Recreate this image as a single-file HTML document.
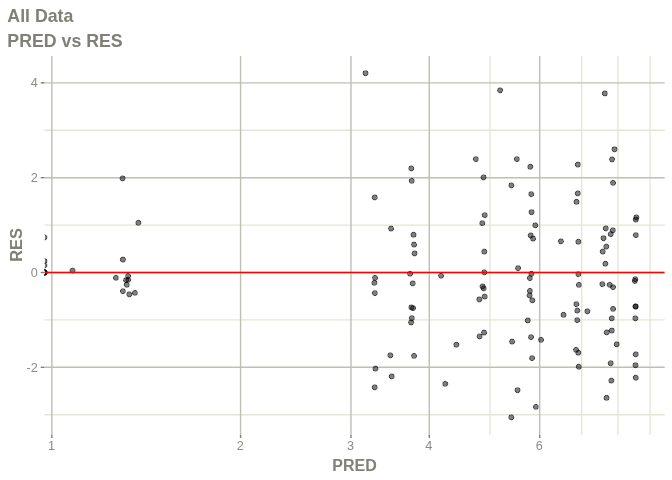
<!DOCTYPE html>
<html><head><meta charset="utf-8"><title>PRED vs RES</title>
<style>html,body{margin:0;padding:0;background:#fff}svg{display:block}text{font-family:"Liberation Sans",Arial,sans-serif;fill:#808078}.t text{fill:#8C8C86}</style></head><body>
<svg width="672" height="480" viewBox="0 0 672 480">
<rect width="672" height="480" fill="#fff"/>
<g stroke="#E6E6D8" stroke-width="1.42" fill="none">
<line x1="44.40" x2="664.70" y1="130.28" y2="130.28"/>
<line x1="44.40" x2="664.70" y1="225.09" y2="225.09"/>
<line x1="44.40" x2="664.70" y1="319.89" y2="319.89"/>
<line x1="44.40" x2="664.70" y1="414.71" y2="414.71"/>
<line x1="490.04" x2="490.04" y1="56.00" y2="434.90"/>
<line x1="581.65" x2="581.65" y1="56.00" y2="434.90"/>
<line x1="618.01" x2="618.01" y1="56.00" y2="434.90"/>
<line x1="650.08" x2="650.08" y1="56.00" y2="434.90"/>
</g>
<g stroke="#BFBFB4" stroke-width="1.42" fill="none">
<line x1="44.40" x2="664.70" y1="82.87" y2="82.87"/>
<line x1="44.40" x2="664.70" y1="177.68" y2="177.68"/>
<line x1="44.40" x2="664.70" y1="272.49" y2="272.49"/>
<line x1="44.40" x2="664.70" y1="367.30" y2="367.30"/>
<line x1="51.85" x2="51.85" y1="56.00" y2="434.90"/>
<line x1="240.57" x2="240.57" y1="56.00" y2="434.90"/>
<line x1="350.96" x2="350.96" y1="56.00" y2="434.90"/>
<line x1="429.29" x2="429.29" y1="56.00" y2="434.90"/>
<line x1="539.68" x2="539.68" y1="56.00" y2="434.90"/>
</g>
<clipPath id="c"><rect x="44.40" y="56.00" width="620.30" height="378.90"/></clipPath>
<clipPath id="p"><rect x="45.00" y="56.00" width="619.70" height="378.90"/></clipPath>
<g clip-path="url(#c)"><g clip-path="url(#p)" fill="#000" fill-opacity="0.5" stroke="none" shape-rendering="crispEdges">
<circle cx="44.40" cy="237.38" r="2.6"/>
<circle cx="44.40" cy="261.09" r="2.6"/>
<circle cx="44.40" cy="265.36" r="2.6"/>
<circle cx="44.40" cy="272.47" r="2.6"/>
<circle cx="44.40" cy="272.47" r="2.6"/>
<circle cx="44.40" cy="272.47" r="2.6"/>
<circle cx="44.40" cy="272.47" r="2.6"/>
<circle cx="44.40" cy="272.47" r="2.6"/>
<circle cx="44.40" cy="272.47" r="2.6"/>
<circle cx="44.40" cy="272.47" r="2.6"/>
<circle cx="44.40" cy="272.47" r="2.6"/>
<circle cx="44.40" cy="272.47" r="2.6"/>
<circle cx="72.55" cy="270.60" r="2.6"/>
<circle cx="122.95" cy="259.60" r="2.6"/>
<circle cx="115.95" cy="277.85" r="2.6"/>
<circle cx="128.05" cy="276.00" r="2.6"/>
<circle cx="126.05" cy="280.10" r="2.6"/>
<circle cx="128.15" cy="279.85" r="2.6"/>
<circle cx="126.80" cy="284.85" r="2.6"/>
<circle cx="122.95" cy="291.20" r="2.6"/>
<circle cx="129.30" cy="294.35" r="2.6"/>
<circle cx="134.95" cy="292.85" r="2.6"/>
<circle cx="122.55" cy="178.40" r="2.6"/>
<circle cx="138.35" cy="222.90" r="2.6"/>
<circle cx="365.55" cy="73.10" r="2.6"/>
<circle cx="500.05" cy="90.30" r="2.6"/>
<circle cx="604.85" cy="93.40" r="2.6"/>
<circle cx="411.25" cy="168.40" r="2.6"/>
<circle cx="411.75" cy="180.90" r="2.6"/>
<circle cx="374.75" cy="197.40" r="2.6"/>
<circle cx="475.85" cy="159.10" r="2.6"/>
<circle cx="516.85" cy="159.10" r="2.6"/>
<circle cx="530.25" cy="166.80" r="2.6"/>
<circle cx="483.55" cy="177.40" r="2.6"/>
<circle cx="511.35" cy="185.40" r="2.6"/>
<circle cx="531.25" cy="194.10" r="2.6"/>
<circle cx="531.55" cy="212.10" r="2.6"/>
<circle cx="614.55" cy="149.30" r="2.6"/>
<circle cx="612.05" cy="159.40" r="2.6"/>
<circle cx="577.85" cy="164.60" r="2.6"/>
<circle cx="613.05" cy="182.90" r="2.6"/>
<circle cx="577.85" cy="193.40" r="2.6"/>
<circle cx="576.55" cy="201.90" r="2.6"/>
<circle cx="391.05" cy="228.60" r="2.6"/>
<circle cx="413.55" cy="234.80" r="2.6"/>
<circle cx="414.05" cy="244.60" r="2.6"/>
<circle cx="414.55" cy="253.40" r="2.6"/>
<circle cx="410.05" cy="273.80" r="2.6"/>
<circle cx="375.05" cy="277.90" r="2.6"/>
<circle cx="374.35" cy="282.90" r="2.6"/>
<circle cx="412.75" cy="283.40" r="2.6"/>
<circle cx="441.05" cy="275.80" r="2.6"/>
<circle cx="484.75" cy="215.10" r="2.6"/>
<circle cx="482.25" cy="223.10" r="2.6"/>
<circle cx="535.25" cy="225.30" r="2.6"/>
<circle cx="530.75" cy="235.40" r="2.6"/>
<circle cx="533.05" cy="238.60" r="2.6"/>
<circle cx="560.95" cy="241.30" r="2.6"/>
<circle cx="484.25" cy="251.60" r="2.6"/>
<circle cx="518.05" cy="268.10" r="2.6"/>
<circle cx="484.25" cy="272.30" r="2.6"/>
<circle cx="531.35" cy="273.90" r="2.6"/>
<circle cx="529.85" cy="278.10" r="2.6"/>
<circle cx="482.55" cy="286.40" r="2.6"/>
<circle cx="483.75" cy="288.40" r="2.6"/>
<circle cx="529.95" cy="290.90" r="2.6"/>
<circle cx="636.35" cy="217.40" r="2.6"/>
<circle cx="635.85" cy="219.60" r="2.6"/>
<circle cx="605.85" cy="228.40" r="2.6"/>
<circle cx="612.85" cy="230.30" r="2.6"/>
<circle cx="610.75" cy="234.10" r="2.6"/>
<circle cx="635.85" cy="235.10" r="2.6"/>
<circle cx="603.55" cy="238.10" r="2.6"/>
<circle cx="578.35" cy="241.80" r="2.6"/>
<circle cx="606.25" cy="246.60" r="2.6"/>
<circle cx="602.75" cy="251.60" r="2.6"/>
<circle cx="605.35" cy="263.80" r="2.6"/>
<circle cx="578.35" cy="274.10" r="2.6"/>
<circle cx="635.25" cy="279.10" r="2.6"/>
<circle cx="634.85" cy="281.00" r="2.6"/>
<circle cx="578.85" cy="284.90" r="2.6"/>
<circle cx="602.35" cy="284.10" r="2.6"/>
<circle cx="609.75" cy="284.90" r="2.6"/>
<circle cx="613.05" cy="287.20" r="2.6"/>
<circle cx="374.85" cy="293.10" r="2.6"/>
<circle cx="411.35" cy="307.40" r="2.6"/>
<circle cx="413.05" cy="308.10" r="2.6"/>
<circle cx="411.85" cy="318.10" r="2.6"/>
<circle cx="411.05" cy="322.40" r="2.6"/>
<circle cx="390.35" cy="355.30" r="2.6"/>
<circle cx="414.05" cy="355.90" r="2.6"/>
<circle cx="375.45" cy="368.60" r="2.6"/>
<circle cx="484.75" cy="296.60" r="2.6"/>
<circle cx="479.35" cy="299.40" r="2.6"/>
<circle cx="529.55" cy="295.40" r="2.6"/>
<circle cx="532.25" cy="300.30" r="2.6"/>
<circle cx="563.55" cy="314.90" r="2.6"/>
<circle cx="527.85" cy="320.40" r="2.6"/>
<circle cx="484.05" cy="332.60" r="2.6"/>
<circle cx="479.55" cy="336.40" r="2.6"/>
<circle cx="456.35" cy="344.80" r="2.6"/>
<circle cx="512.05" cy="341.60" r="2.6"/>
<circle cx="531.05" cy="337.10" r="2.6"/>
<circle cx="541.05" cy="339.90" r="2.6"/>
<circle cx="532.05" cy="358.10" r="2.6"/>
<circle cx="576.35" cy="304.10" r="2.6"/>
<circle cx="577.25" cy="310.60" r="2.6"/>
<circle cx="587.35" cy="311.30" r="2.6"/>
<circle cx="577.25" cy="320.10" r="2.6"/>
<circle cx="613.05" cy="308.90" r="2.6"/>
<circle cx="635.55" cy="306.40" r="2.6"/>
<circle cx="635.65" cy="306.60" r="2.6"/>
<circle cx="611.85" cy="318.30" r="2.6"/>
<circle cx="635.35" cy="318.30" r="2.6"/>
<circle cx="611.85" cy="330.60" r="2.6"/>
<circle cx="606.75" cy="332.40" r="2.6"/>
<circle cx="616.75" cy="344.30" r="2.6"/>
<circle cx="576.05" cy="349.90" r="2.6"/>
<circle cx="578.25" cy="352.80" r="2.6"/>
<circle cx="635.85" cy="354.30" r="2.6"/>
<circle cx="610.75" cy="363.20" r="2.6"/>
<circle cx="635.55" cy="365.20" r="2.6"/>
<circle cx="578.85" cy="366.80" r="2.6"/>
<circle cx="391.75" cy="376.40" r="2.6"/>
<circle cx="374.75" cy="387.30" r="2.6"/>
<circle cx="445.25" cy="383.90" r="2.6"/>
<circle cx="517.55" cy="390.10" r="2.6"/>
<circle cx="535.85" cy="406.90" r="2.6"/>
<circle cx="511.25" cy="417.30" r="2.6"/>
<circle cx="611.35" cy="380.60" r="2.6"/>
<circle cx="635.85" cy="377.80" r="2.6"/>
<circle cx="606.55" cy="397.90" r="2.6"/>
</g>
<g fill="none" stroke="#000" stroke-opacity="0.5" stroke-width="0.94">
<circle cx="44.40" cy="237.38" r="2.6"/>
<circle cx="44.40" cy="261.09" r="2.6"/>
<circle cx="44.40" cy="265.36" r="2.6"/>
<circle cx="44.40" cy="272.47" r="2.6"/>
<circle cx="44.40" cy="272.47" r="2.6"/>
<circle cx="44.40" cy="272.47" r="2.6"/>
<circle cx="44.40" cy="272.47" r="2.6"/>
<circle cx="44.40" cy="272.47" r="2.6"/>
<circle cx="44.40" cy="272.47" r="2.6"/>
<circle cx="44.40" cy="272.47" r="2.6"/>
<circle cx="44.40" cy="272.47" r="2.6"/>
<circle cx="44.40" cy="272.47" r="2.6"/>
<circle cx="72.55" cy="270.60" r="2.6"/>
<circle cx="122.95" cy="259.60" r="2.6"/>
<circle cx="115.95" cy="277.85" r="2.6"/>
<circle cx="128.05" cy="276.00" r="2.6"/>
<circle cx="126.05" cy="280.10" r="2.6"/>
<circle cx="128.15" cy="279.85" r="2.6"/>
<circle cx="126.80" cy="284.85" r="2.6"/>
<circle cx="122.95" cy="291.20" r="2.6"/>
<circle cx="129.30" cy="294.35" r="2.6"/>
<circle cx="134.95" cy="292.85" r="2.6"/>
<circle cx="122.55" cy="178.40" r="2.6"/>
<circle cx="138.35" cy="222.90" r="2.6"/>
<circle cx="365.55" cy="73.10" r="2.6"/>
<circle cx="500.05" cy="90.30" r="2.6"/>
<circle cx="604.85" cy="93.40" r="2.6"/>
<circle cx="411.25" cy="168.40" r="2.6"/>
<circle cx="411.75" cy="180.90" r="2.6"/>
<circle cx="374.75" cy="197.40" r="2.6"/>
<circle cx="475.85" cy="159.10" r="2.6"/>
<circle cx="516.85" cy="159.10" r="2.6"/>
<circle cx="530.25" cy="166.80" r="2.6"/>
<circle cx="483.55" cy="177.40" r="2.6"/>
<circle cx="511.35" cy="185.40" r="2.6"/>
<circle cx="531.25" cy="194.10" r="2.6"/>
<circle cx="531.55" cy="212.10" r="2.6"/>
<circle cx="614.55" cy="149.30" r="2.6"/>
<circle cx="612.05" cy="159.40" r="2.6"/>
<circle cx="577.85" cy="164.60" r="2.6"/>
<circle cx="613.05" cy="182.90" r="2.6"/>
<circle cx="577.85" cy="193.40" r="2.6"/>
<circle cx="576.55" cy="201.90" r="2.6"/>
<circle cx="391.05" cy="228.60" r="2.6"/>
<circle cx="413.55" cy="234.80" r="2.6"/>
<circle cx="414.05" cy="244.60" r="2.6"/>
<circle cx="414.55" cy="253.40" r="2.6"/>
<circle cx="410.05" cy="273.80" r="2.6"/>
<circle cx="375.05" cy="277.90" r="2.6"/>
<circle cx="374.35" cy="282.90" r="2.6"/>
<circle cx="412.75" cy="283.40" r="2.6"/>
<circle cx="441.05" cy="275.80" r="2.6"/>
<circle cx="484.75" cy="215.10" r="2.6"/>
<circle cx="482.25" cy="223.10" r="2.6"/>
<circle cx="535.25" cy="225.30" r="2.6"/>
<circle cx="530.75" cy="235.40" r="2.6"/>
<circle cx="533.05" cy="238.60" r="2.6"/>
<circle cx="560.95" cy="241.30" r="2.6"/>
<circle cx="484.25" cy="251.60" r="2.6"/>
<circle cx="518.05" cy="268.10" r="2.6"/>
<circle cx="484.25" cy="272.30" r="2.6"/>
<circle cx="531.35" cy="273.90" r="2.6"/>
<circle cx="529.85" cy="278.10" r="2.6"/>
<circle cx="482.55" cy="286.40" r="2.6"/>
<circle cx="483.75" cy="288.40" r="2.6"/>
<circle cx="529.95" cy="290.90" r="2.6"/>
<circle cx="636.35" cy="217.40" r="2.6"/>
<circle cx="635.85" cy="219.60" r="2.6"/>
<circle cx="605.85" cy="228.40" r="2.6"/>
<circle cx="612.85" cy="230.30" r="2.6"/>
<circle cx="610.75" cy="234.10" r="2.6"/>
<circle cx="635.85" cy="235.10" r="2.6"/>
<circle cx="603.55" cy="238.10" r="2.6"/>
<circle cx="578.35" cy="241.80" r="2.6"/>
<circle cx="606.25" cy="246.60" r="2.6"/>
<circle cx="602.75" cy="251.60" r="2.6"/>
<circle cx="605.35" cy="263.80" r="2.6"/>
<circle cx="578.35" cy="274.10" r="2.6"/>
<circle cx="635.25" cy="279.10" r="2.6"/>
<circle cx="634.85" cy="281.00" r="2.6"/>
<circle cx="578.85" cy="284.90" r="2.6"/>
<circle cx="602.35" cy="284.10" r="2.6"/>
<circle cx="609.75" cy="284.90" r="2.6"/>
<circle cx="613.05" cy="287.20" r="2.6"/>
<circle cx="374.85" cy="293.10" r="2.6"/>
<circle cx="411.35" cy="307.40" r="2.6"/>
<circle cx="413.05" cy="308.10" r="2.6"/>
<circle cx="411.85" cy="318.10" r="2.6"/>
<circle cx="411.05" cy="322.40" r="2.6"/>
<circle cx="390.35" cy="355.30" r="2.6"/>
<circle cx="414.05" cy="355.90" r="2.6"/>
<circle cx="375.45" cy="368.60" r="2.6"/>
<circle cx="484.75" cy="296.60" r="2.6"/>
<circle cx="479.35" cy="299.40" r="2.6"/>
<circle cx="529.55" cy="295.40" r="2.6"/>
<circle cx="532.25" cy="300.30" r="2.6"/>
<circle cx="563.55" cy="314.90" r="2.6"/>
<circle cx="527.85" cy="320.40" r="2.6"/>
<circle cx="484.05" cy="332.60" r="2.6"/>
<circle cx="479.55" cy="336.40" r="2.6"/>
<circle cx="456.35" cy="344.80" r="2.6"/>
<circle cx="512.05" cy="341.60" r="2.6"/>
<circle cx="531.05" cy="337.10" r="2.6"/>
<circle cx="541.05" cy="339.90" r="2.6"/>
<circle cx="532.05" cy="358.10" r="2.6"/>
<circle cx="576.35" cy="304.10" r="2.6"/>
<circle cx="577.25" cy="310.60" r="2.6"/>
<circle cx="587.35" cy="311.30" r="2.6"/>
<circle cx="577.25" cy="320.10" r="2.6"/>
<circle cx="613.05" cy="308.90" r="2.6"/>
<circle cx="635.55" cy="306.40" r="2.6"/>
<circle cx="635.65" cy="306.60" r="2.6"/>
<circle cx="611.85" cy="318.30" r="2.6"/>
<circle cx="635.35" cy="318.30" r="2.6"/>
<circle cx="611.85" cy="330.60" r="2.6"/>
<circle cx="606.75" cy="332.40" r="2.6"/>
<circle cx="616.75" cy="344.30" r="2.6"/>
<circle cx="576.05" cy="349.90" r="2.6"/>
<circle cx="578.25" cy="352.80" r="2.6"/>
<circle cx="635.85" cy="354.30" r="2.6"/>
<circle cx="610.75" cy="363.20" r="2.6"/>
<circle cx="635.55" cy="365.20" r="2.6"/>
<circle cx="578.85" cy="366.80" r="2.6"/>
<circle cx="391.75" cy="376.40" r="2.6"/>
<circle cx="374.75" cy="387.30" r="2.6"/>
<circle cx="445.25" cy="383.90" r="2.6"/>
<circle cx="517.55" cy="390.10" r="2.6"/>
<circle cx="535.85" cy="406.90" r="2.6"/>
<circle cx="511.25" cy="417.30" r="2.6"/>
<circle cx="611.35" cy="380.60" r="2.6"/>
<circle cx="635.85" cy="377.80" r="2.6"/>
<circle cx="606.55" cy="397.90" r="2.6"/>
</g>
<line x1="44.40" x2="664.70" y1="272.49" y2="272.49" stroke="#FF0000" stroke-width="1.42"/>
</g>
<g stroke="#808078" stroke-width="1.42" fill="none">
<line x1="40.73" x2="44.40" y1="82.87" y2="82.87"/>
<line x1="40.73" x2="44.40" y1="177.68" y2="177.68"/>
<line x1="40.73" x2="44.40" y1="272.49" y2="272.49"/>
<line x1="40.73" x2="44.40" y1="367.30" y2="367.30"/>
<line x1="51.85" x2="51.85" y1="434.90" y2="438.00"/>
<line x1="240.57" x2="240.57" y1="434.90" y2="438.00"/>
<line x1="350.96" x2="350.96" y1="434.90" y2="438.00"/>
<line x1="429.29" x2="429.29" y1="434.90" y2="438.00"/>
<line x1="539.68" x2="539.68" y1="434.90" y2="438.00"/>
</g>
<g font-size="12.7" class="t">
<text x="37.8" y="87.17" text-anchor="end">4</text>
<text x="37.8" y="181.98" text-anchor="end">2</text>
<text x="37.8" y="276.79" text-anchor="end">0</text>
<text x="37.8" y="371.60" text-anchor="end">-2</text>
<text x="51.45" y="449.9" text-anchor="middle">1</text>
<text x="240.17" y="449.9" text-anchor="middle">2</text>
<text x="350.56" y="449.9" text-anchor="middle">3</text>
<text x="428.89" y="449.9" text-anchor="middle">4</text>
<text x="539.28" y="449.9" text-anchor="middle">6</text>
</g>
<g font-weight="bold">
<text transform="translate(7.33,22) scale(1,1.05)" font-size="17.75">All Data</text>
<text transform="translate(7.33,47) scale(1,1.05)" font-size="17.75">PRED vs RES</text>
<text x="354.55" y="470.6" font-size="16" text-anchor="middle">PRED</text>
<text transform="translate(21.6,245.0) rotate(-90) scale(1,1.04)" font-size="16.4" text-anchor="middle">RES</text>
</g>
</svg></body></html>
